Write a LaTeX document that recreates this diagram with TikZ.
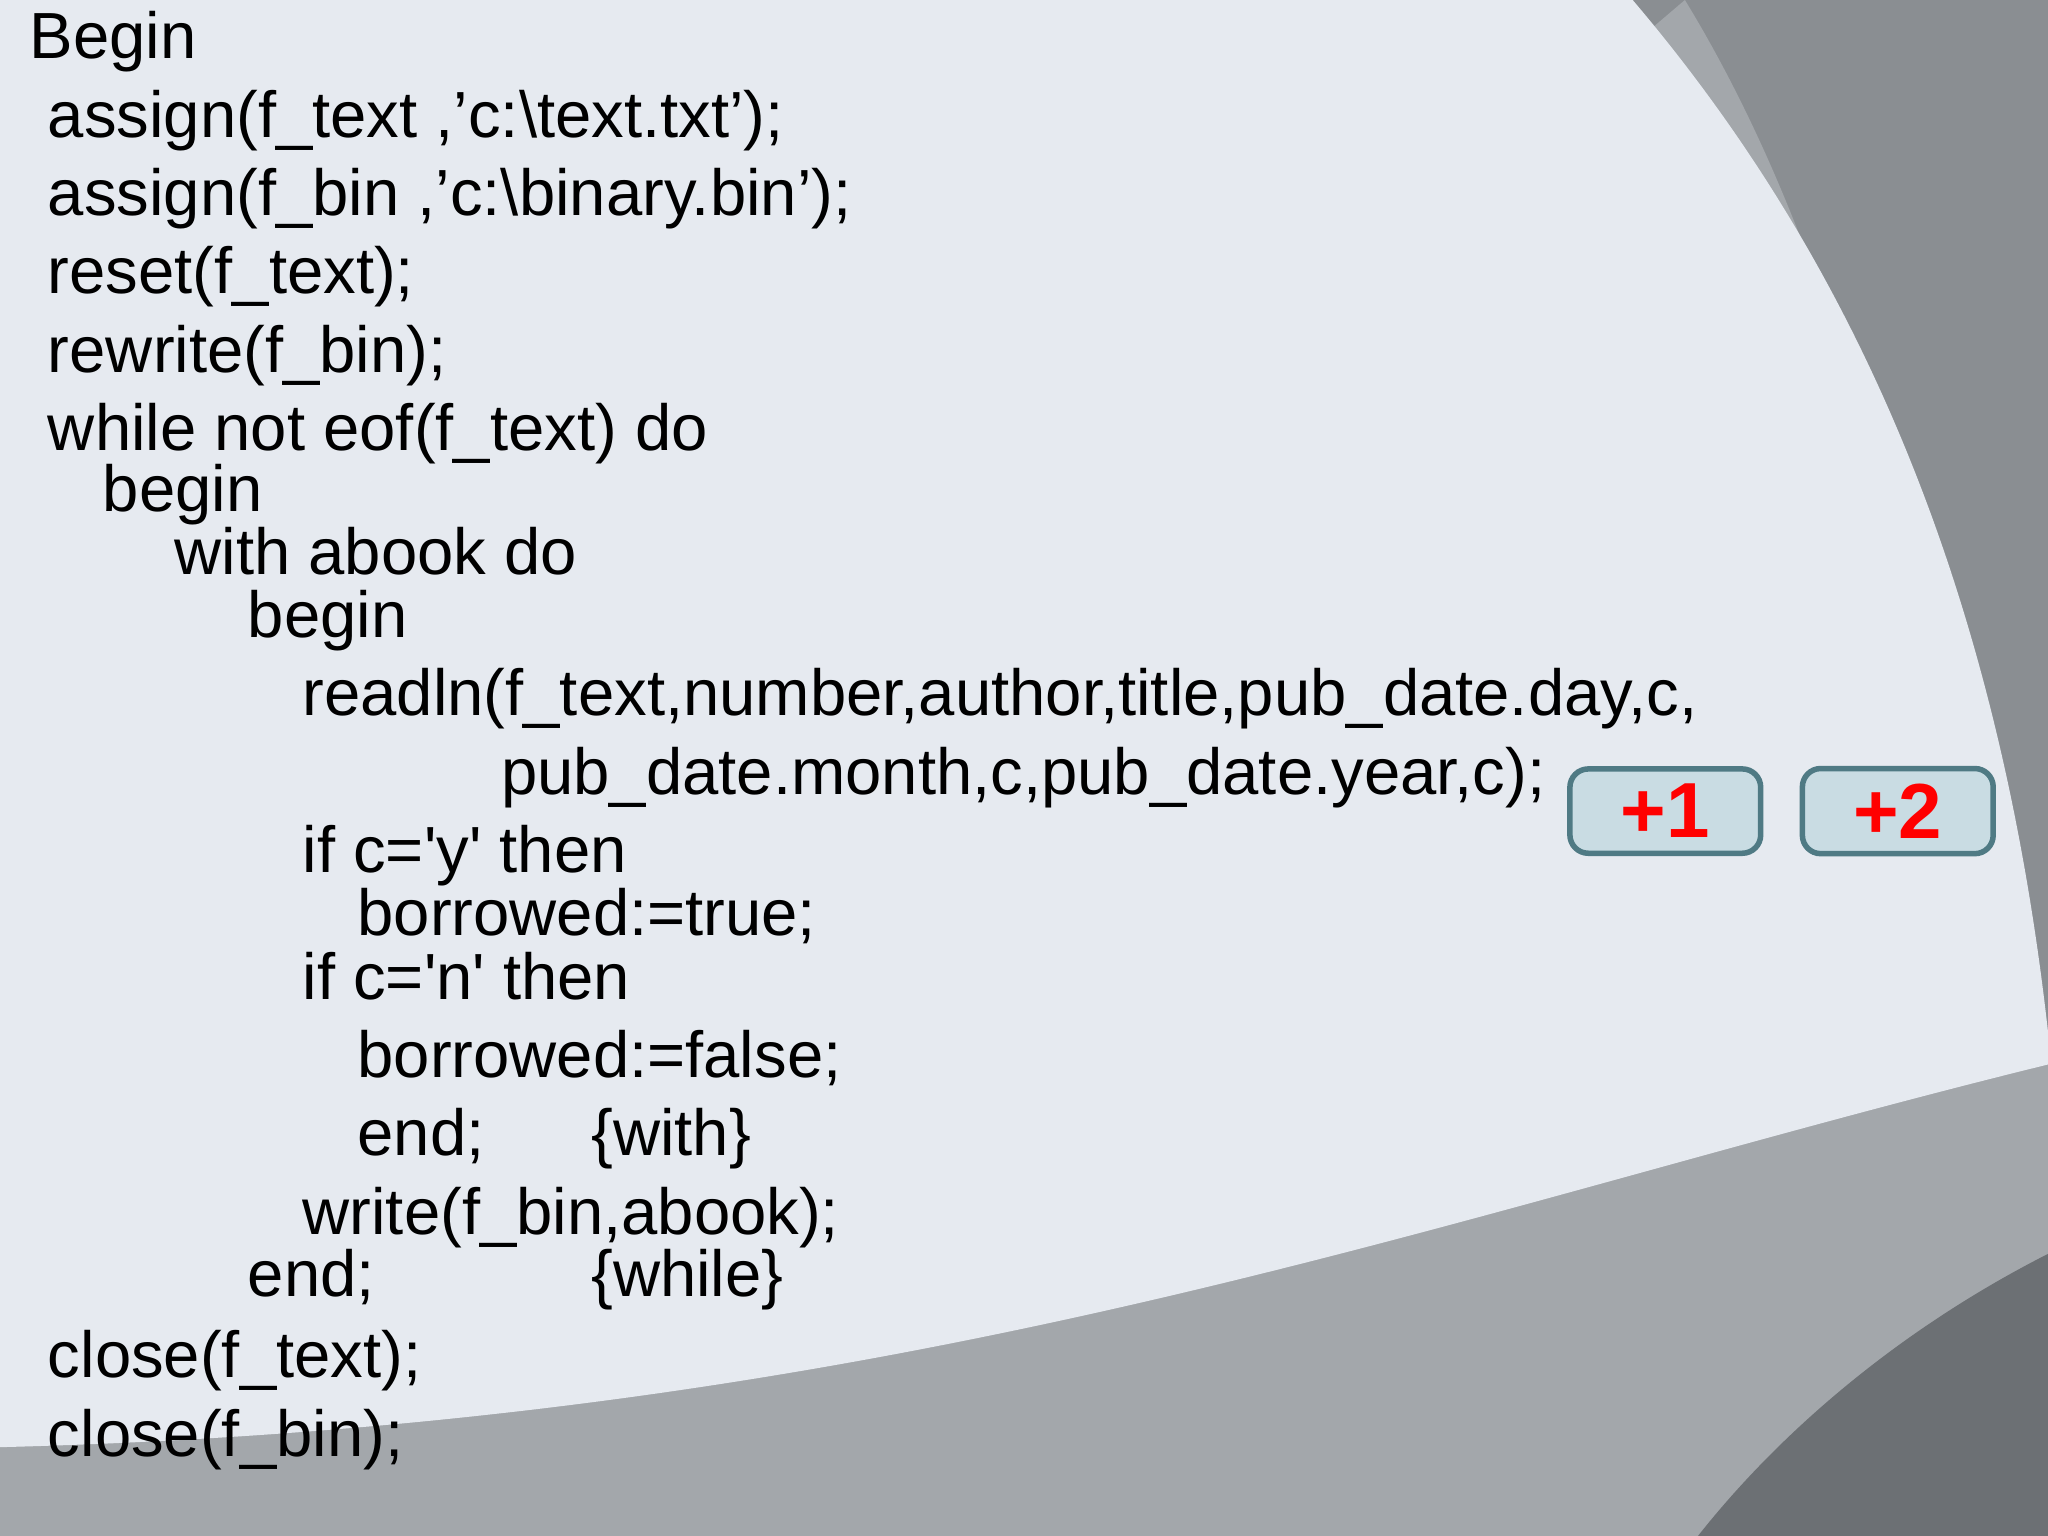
\documentclass[tikz,border=0pt]{standalone}
\usepackage{fontspec}
\setmainfont{Liberation Sans}
\definecolor{bgmain}{HTML}{E6EAF0}
\definecolor{gmid}{HTML}{A3A7AB}
\definecolor{gdark}{HTML}{8A8E92}
\definecolor{gdeep}{HTML}{6C7074}
\definecolor{boxfill}{HTML}{C9DCE3}
\definecolor{boxline}{HTML}{4F7A84}
\definecolor{plusred}{HTML}{FF0000}
\begin{document}
\begin{tikzpicture}[x=0.01cm,y=-0.01cm,
  code/.style={anchor=base west,inner sep=0pt,font=\fontsize{14.2}{16}\selectfont},
  plusbox/.style={draw=boxline,line width=1.2pt,fill=boxfill,rounded corners=4pt,minimum width=1.46cm,minimum height=0.64cm,font=\bfseries\fontsize{17}{20}\selectfont,text=plusred}]
\useasboundingbox (0,0) rectangle (1568,1176);
\fill[gdark] (0,0) rectangle (1568,1176);
\fill[gmid] (1290,0) .. controls (1400,180) and (1480,450) .. (1500,800) -- (1568,800) -- (1568,1176) -- (0,1176) -- (0,1100) -- cycle;
\fill[gmid] (0,1176) -- (0,1100) -- (1568,800) -- (1568,1176) -- cycle;
\fill[gdeep] (1568,960) .. controls (1450,1020) and (1360,1100) .. (1300,1176) -- (1568,1176) -- cycle;
\fill[bgmain] (0,0) -- (1250,0) .. controls (1420,200) and (1530,450) .. (1568,790) -- (1568,815) .. controls (1100,930) and (700,1090) .. (0,1108) -- cycle;
\node[code] (l1) at (22,45) {Begin};
\node[code] (l2) at (36,105) {assign(f\_text ,’c:\textbackslash text.txt’);};
\node[code] (l3) at (36,165) {assign(f\_bin ,’c:\textbackslash binary.bin’);};
\node[code] (l4) at (36,225) {reset(f\_text);};
\node[code] (l5) at (36,285) {rewrite(f\_bin);};
\node[code] (l6) at (36,345) {while not eof(f\_text) do};
\node[code] (l7) at (78,392) {begin};
\node[code] (l8) at (133,440) {with abook do};
\node[code] (l9) at (189,488) {begin};
\node[code] (l10) at (231,548) {readln(f\_text,number,author,title,pub\_date.day,c,};
\node[code] (l11) at (383,608) {pub\_date.month,c,pub\_date.year,c);};
\node[code] (l12) at (231,668) {if c=\textquotesingle y\textquotesingle{} then};
\node[code] (l13) at (273,716) {borrowed:=true;};
\node[code] (l14) at (231,765) {if c=\textquotesingle n\textquotesingle{} then};
\node[code] (l15) at (273,825) {borrowed:=false;};
\node[code] (l16) at (273,885) {end;};
\node[code] (l16b) at (452,885) {\{with\}};
\node[code] (l17) at (231,945) {write(f\_bin,abook);};
\node[code] (l18) at (189,993) {end;};
\node[code] (l18b) at (452,993) {\{while\}};
\node[code] (l19) at (36,1055) {close(f\_text);};
\node[code] (l20) at (36,1115) {close(f\_bin);};
\node[plusbox] (p1) at (1275,621) {+1};
\node[plusbox] (p2) at (1453,621) {+2};
\end{tikzpicture}
\end{document}
